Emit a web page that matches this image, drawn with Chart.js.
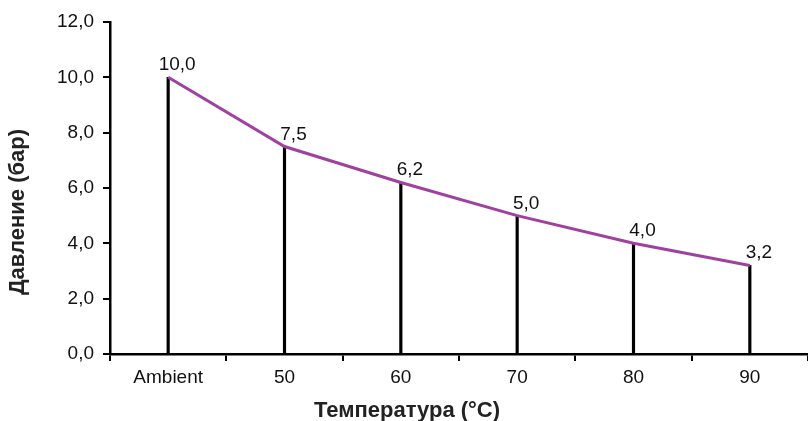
<!DOCTYPE html>
<html>
<head>
<meta charset="utf-8">
<script src="https://cdn.jsdelivr.net/npm/chart.js@4.4.0/dist/chart.umd.min.js"></script>
<style>
  html, body { margin: 0; padding: 0; background: #fff; }
  #wrap { width: 808px; height: 421px; position: relative; }
</style>
</head>
<body>
<div id="wrap"><canvas id="c"></canvas></div>
<script>
const categories = ['Ambient', '50', '60', '70', '80', '90'];
const pressure = [10.0, 7.5, 6.2, 5.0, 4.0, 3.2];
const yTicks = [0, 2, 4, 6, 8, 10, 12];
const xTitle = 'Температура (°C)';
const yTitle = 'Давление (бар)';

const FONT = '"Liberation Sans", Arial, sans-serif';
const fmt = v => Number(v).toFixed(1).replace('.', ',');

const labelPlugin = {
  id: 'pointLabels',
  afterDatasetsDraw(chart) {
    const meta = chart.getDatasetMeta(1);
    const ctx = chart.ctx;
    ctx.save();
    ctx.font = '19px ' + FONT;
    ctx.fillStyle = '#111';
    ctx.textAlign = 'center';
    ctx.textBaseline = 'alphabetic';
    meta.data.forEach((el, i) => {
      ctx.fillText(fmt(chart.data.datasets[1].data[i]), el.x + 9, el.y - 7);
    });
    ctx.restore();
  }
};

const axisTitlePlugin = {
  id: 'axisTitles',
  afterDraw(chart) {
    const ctx = chart.ctx;
    ctx.save();
    ctx.font = 'bold 22px ' + FONT;
    ctx.fillStyle = '#222';
    ctx.textAlign = 'center';
    ctx.textBaseline = 'middle';
    ctx.fillText(xTitle, chart.width / 2 + 3, chart.height - 10.5);
    ctx.translate(18, chart.height / 2 + 1.5);
    ctx.rotate(-Math.PI / 2);
    ctx.fillText(yTitle, 0, 0);
    ctx.restore();
  }
};

new Chart(document.getElementById('c'), {
  type: 'bar',
  data: {
    labels: categories,
    datasets: [
      {
        type: 'bar',
        data: pressure,
        backgroundColor: '#000',
        barThickness: 2.5,
        order: 2
      },
      {
        type: 'line',
        data: pressure,
        borderColor: '#a0409f',
        borderWidth: 3,
        pointRadius: 0,
        tension: 0,
        fill: false,
        order: 1
      }
    ]
  },
  options: {
    responsive: true,
    maintainAspectRatio: false,
    animation: false,
    devicePixelRatio: 1,
    layout: { padding: { top: 22, right: 0, left: 36, bottom: 25 } },
    plugins: {
      legend: { display: false },
      tooltip: { enabled: false }
    },
    scales: {
      x: {
        offset: true,
        grid: {
          offset: true,
          drawOnChartArea: false,
          drawTicks: true,
          tickLength: 7,
          color: '#000',
          lineWidth: 2
        },
        border: { display: true, color: '#000', width: 2.5 },
        ticks: {
          color: '#111',
          font: { family: FONT, size: 19 },
          padding: 5.5,
          maxRotation: 0
        },
        afterFit(s) { s.height = 42; }
      },
      y: {
        min: 0,
        max: 12,
        afterBuildTicks(s) { s.ticks = yTicks.map(v => ({ value: v })); },
        grid: {
          drawOnChartArea: false,
          drawTicks: true,
          tickLength: 7,
          color: '#000',
          lineWidth: 2
        },
        border: { display: true, color: '#000', width: 2.5 },
        ticks: {
          color: '#111',
          font: { family: FONT, size: 19 },
          padding: 9,
          callback: v => fmt(v)
        },
        afterFit(s) { s.width = 74; }
      }
    }
  },
  plugins: [labelPlugin, axisTitlePlugin]
});
</script>
</body>
</html>
